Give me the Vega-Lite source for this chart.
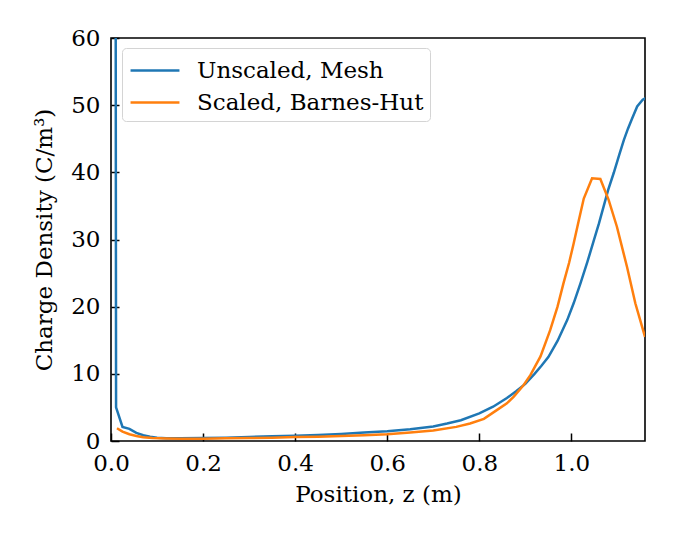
{
  "$schema": "https://vega.github.io/schema/vega-lite/v6.json",
  "width": 534,
  "height": 403,
  "autosize": {"type": "none"},
  "padding": {"left": 111, "top": 38, "right": 30, "bottom": 95},
  "background": "white",
  "config": {
    "font": "DejaVu Serif",
    "view": {"stroke": "black", "strokeWidth": 1.6},
    "axis": {
      "domain": false,
      "grid": false,
      "tickColor": "black",
      "tickWidth": 1.5,
      "tickSize": -8,
      "labelFlush": false,
      "labelOverlap": false,
      "labelFont": "DejaVu Serif",
      "labelFontSize": 23,
      "labelColor": "black",
      "titleFont": "DejaVu Serif",
      "titleFontSize": 23,
      "titleFontWeight": "normal",
      "titleColor": "black"
    }
  },
  "datasets": {
    "curves": [
      {"z": 0.009, "rho": 150, "series": "Unscaled, Mesh"},
      {"z": 0.011, "rho": 5.0, "series": "Unscaled, Mesh"},
      {"z": 0.025, "rho": 2.1, "series": "Unscaled, Mesh"},
      {"z": 0.04, "rho": 1.8, "series": "Unscaled, Mesh"},
      {"z": 0.055, "rho": 1.2, "series": "Unscaled, Mesh"},
      {"z": 0.07, "rho": 0.85, "series": "Unscaled, Mesh"},
      {"z": 0.085, "rho": 0.65, "series": "Unscaled, Mesh"},
      {"z": 0.1, "rho": 0.5, "series": "Unscaled, Mesh"},
      {"z": 0.12, "rho": 0.42, "series": "Unscaled, Mesh"},
      {"z": 0.15, "rho": 0.4, "series": "Unscaled, Mesh"},
      {"z": 0.2, "rho": 0.45, "series": "Unscaled, Mesh"},
      {"z": 0.25, "rho": 0.5, "series": "Unscaled, Mesh"},
      {"z": 0.3, "rho": 0.6, "series": "Unscaled, Mesh"},
      {"z": 0.35, "rho": 0.7, "series": "Unscaled, Mesh"},
      {"z": 0.4, "rho": 0.8, "series": "Unscaled, Mesh"},
      {"z": 0.45, "rho": 0.9, "series": "Unscaled, Mesh"},
      {"z": 0.5, "rho": 1.05, "series": "Unscaled, Mesh"},
      {"z": 0.55, "rho": 1.25, "series": "Unscaled, Mesh"},
      {"z": 0.6, "rho": 1.45, "series": "Unscaled, Mesh"},
      {"z": 0.65, "rho": 1.75, "series": "Unscaled, Mesh"},
      {"z": 0.7, "rho": 2.15, "series": "Unscaled, Mesh"},
      {"z": 0.73, "rho": 2.6, "series": "Unscaled, Mesh"},
      {"z": 0.76, "rho": 3.1, "series": "Unscaled, Mesh"},
      {"z": 0.8, "rho": 4.1, "series": "Unscaled, Mesh"},
      {"z": 0.83, "rho": 5.1, "series": "Unscaled, Mesh"},
      {"z": 0.86, "rho": 6.4, "series": "Unscaled, Mesh"},
      {"z": 0.88, "rho": 7.4, "series": "Unscaled, Mesh"},
      {"z": 0.9, "rho": 8.5, "series": "Unscaled, Mesh"},
      {"z": 0.92, "rho": 10.0, "series": "Unscaled, Mesh"},
      {"z": 0.935, "rho": 11.2, "series": "Unscaled, Mesh"},
      {"z": 0.95, "rho": 12.5, "series": "Unscaled, Mesh"},
      {"z": 0.97, "rho": 14.9, "series": "Unscaled, Mesh"},
      {"z": 0.991, "rho": 18.0, "series": "Unscaled, Mesh"},
      {"z": 1.005, "rho": 20.5, "series": "Unscaled, Mesh"},
      {"z": 1.02, "rho": 23.5, "series": "Unscaled, Mesh"},
      {"z": 1.035, "rho": 26.7, "series": "Unscaled, Mesh"},
      {"z": 1.049, "rho": 29.9, "series": "Unscaled, Mesh"},
      {"z": 1.06, "rho": 32.4, "series": "Unscaled, Mesh"},
      {"z": 1.07, "rho": 34.9, "series": "Unscaled, Mesh"},
      {"z": 1.08, "rho": 37.4, "series": "Unscaled, Mesh"},
      {"z": 1.092, "rho": 39.9, "series": "Unscaled, Mesh"},
      {"z": 1.104, "rho": 42.6, "series": "Unscaled, Mesh"},
      {"z": 1.114, "rho": 44.8, "series": "Unscaled, Mesh"},
      {"z": 1.123, "rho": 46.5, "series": "Unscaled, Mesh"},
      {"z": 1.132, "rho": 48.0, "series": "Unscaled, Mesh"},
      {"z": 1.143, "rho": 49.8, "series": "Unscaled, Mesh"},
      {"z": 1.155, "rho": 50.8, "series": "Unscaled, Mesh"},
      {"z": 1.165, "rho": 51.2, "series": "Unscaled, Mesh"},
      {"z": 0.013, "rho": 1.9, "series": "Scaled, Barnes-Hut"},
      {"z": 0.025, "rho": 1.4, "series": "Scaled, Barnes-Hut"},
      {"z": 0.04, "rho": 1.0, "series": "Scaled, Barnes-Hut"},
      {"z": 0.055, "rho": 0.75, "series": "Scaled, Barnes-Hut"},
      {"z": 0.07, "rho": 0.55, "series": "Scaled, Barnes-Hut"},
      {"z": 0.09, "rho": 0.45, "series": "Scaled, Barnes-Hut"},
      {"z": 0.12, "rho": 0.38, "series": "Scaled, Barnes-Hut"},
      {"z": 0.15, "rho": 0.35, "series": "Scaled, Barnes-Hut"},
      {"z": 0.2, "rho": 0.35, "series": "Scaled, Barnes-Hut"},
      {"z": 0.25, "rho": 0.4, "series": "Scaled, Barnes-Hut"},
      {"z": 0.3, "rho": 0.45, "series": "Scaled, Barnes-Hut"},
      {"z": 0.35, "rho": 0.5, "series": "Scaled, Barnes-Hut"},
      {"z": 0.4, "rho": 0.6, "series": "Scaled, Barnes-Hut"},
      {"z": 0.45, "rho": 0.65, "series": "Scaled, Barnes-Hut"},
      {"z": 0.5, "rho": 0.75, "series": "Scaled, Barnes-Hut"},
      {"z": 0.55, "rho": 0.85, "series": "Scaled, Barnes-Hut"},
      {"z": 0.6, "rho": 1.0, "series": "Scaled, Barnes-Hut"},
      {"z": 0.65, "rho": 1.25, "series": "Scaled, Barnes-Hut"},
      {"z": 0.7, "rho": 1.55, "series": "Scaled, Barnes-Hut"},
      {"z": 0.75, "rho": 2.1, "series": "Scaled, Barnes-Hut"},
      {"z": 0.78, "rho": 2.6, "series": "Scaled, Barnes-Hut"},
      {"z": 0.81, "rho": 3.3, "series": "Scaled, Barnes-Hut"},
      {"z": 0.838, "rho": 4.6, "series": "Scaled, Barnes-Hut"},
      {"z": 0.86, "rho": 5.6, "series": "Scaled, Barnes-Hut"},
      {"z": 0.875, "rho": 6.6, "series": "Scaled, Barnes-Hut"},
      {"z": 0.896, "rho": 8.3, "series": "Scaled, Barnes-Hut"},
      {"z": 0.911, "rho": 9.8, "series": "Scaled, Barnes-Hut"},
      {"z": 0.933, "rho": 12.6, "series": "Scaled, Barnes-Hut"},
      {"z": 0.954, "rho": 16.5, "series": "Scaled, Barnes-Hut"},
      {"z": 0.97, "rho": 20.0, "series": "Scaled, Barnes-Hut"},
      {"z": 0.983, "rho": 23.5, "series": "Scaled, Barnes-Hut"},
      {"z": 0.995, "rho": 26.5, "series": "Scaled, Barnes-Hut"},
      {"z": 1.005, "rho": 29.4, "series": "Scaled, Barnes-Hut"},
      {"z": 1.016, "rho": 32.8, "series": "Scaled, Barnes-Hut"},
      {"z": 1.027, "rho": 36.1, "series": "Scaled, Barnes-Hut"},
      {"z": 1.045, "rho": 39.1, "series": "Scaled, Barnes-Hut"},
      {"z": 1.063, "rho": 39.0, "series": "Scaled, Barnes-Hut"},
      {"z": 1.081, "rho": 35.9, "series": "Scaled, Barnes-Hut"},
      {"z": 1.099, "rho": 31.9, "series": "Scaled, Barnes-Hut"},
      {"z": 1.121, "rho": 25.9, "series": "Scaled, Barnes-Hut"},
      {"z": 1.139, "rho": 20.5, "series": "Scaled, Barnes-Hut"},
      {"z": 1.16, "rho": 15.5, "series": "Scaled, Barnes-Hut"}
    ]
  },
  "data": {"name": "curves"},
  "mark": {"type": "line", "strokeWidth": 2.5, "clip": true},
  "encoding": {
    "x": {
      "field": "z",
      "type": "quantitative",
      "scale": {"domain": [0, 1.16], "nice": false, "zero": false},
      "axis": {
        "title": "Position, z (m)",
        "values": [0, 0.2, 0.4, 0.6, 0.8, 1.0],
        "format": ".1f",
        "labelPadding": 19,
        "titlePadding": 8
      }
    },
    "y": {
      "field": "rho",
      "type": "quantitative",
      "scale": {"domain": [0, 60], "nice": false},
      "axis": {
        "title": "Charge Density (C/m³)",
        "values": [0, 10, 20, 30, 40, 50, 60],
        "labelPadding": 19,
        "titlePadding": 14
      }
    },
    "color": {
      "field": "series",
      "type": "nominal",
      "sort": ["Unscaled, Mesh", "Scaled, Barnes-Hut"],
      "scale": {"domain": ["Unscaled, Mesh", "Scaled, Barnes-Hut"], "range": ["#1f77b4", "#ff7f0e"]},
      "legend": {
        "title": null,
        "orient": "none",
        "legendX": 11,
        "legendY": 10,
        "padding": 6,
        "strokeColor": "#d4d4d4",
        "fillColor": "rgba(255,255,255,0.8)",
        "cornerRadius": 4,
        "symbolType": "M-0.93,0H2.33",
        "symbolSize": 900,
        "symbolStrokeWidth": 2.5,
        "symbolFillColor": "transparent",
        "labelFont": "DejaVu Serif",
        "labelFontSize": 23,
        "labelLimit": 500,
        "labelColor": "black",
        "labelOffset": 36,
        "rowPadding": 3
      }
    }
  }
}
